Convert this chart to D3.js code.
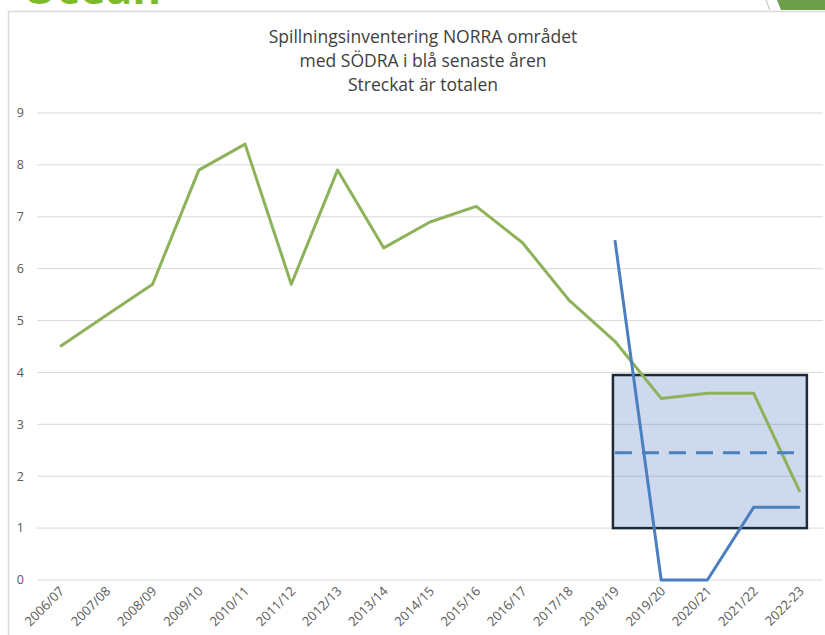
<!DOCTYPE html>
<html>
<head>
<meta charset="utf-8">
<script src="https://cdn.jsdelivr.net/npm/d3@7"></script>
<style>
  body { margin: 0; background: #fff; }
  text { font-family: "Open Sans", "Noto Sans", sans-serif; }
</style>
</head>
<body>
<div id="chart"></div>
<script>
// Kategorier (säsonger)
var seasons = ["2006/07", "2007/08", "2008/09", "2009/10", "2010/11", "2011/12",
  "2012/13", "2013/14", "2014/15", "2015/16", "2016/17", "2017/18",
  "2018/19", "2019/20", "2020/21", "2021/22", "2022-23"];

// NORRA området (grön)
var norra = [4.5, 5.1, 5.7, 7.9, 8.4, 5.7, 7.9, 6.4, 6.9, 7.2, 6.5, 5.4, 4.6, 3.5, 3.6, 3.6, 1.7];

// SÖDRA (blå), bara senaste åren
var sodraSeasons = ["2018/19", "2019/20", "2020/21", "2021/22", "2022-23"];
var sodra = [6.55, 0, 0, 1.4, 1.4];

// Streckat = totalen
var totalSeasons = ["2018/19", "2022-23"];
var total = [2.45, 2.45];

// Markerad ruta
var boxSeasons = ["2018/19", "2022-23"];
var boxValues = [1.0, 3.95];

var yTicks = [0, 1, 2, 3, 4, 5, 6, 7, 8, 9];

var titleLines = ["Spillningsinventering NORRA området", "med SÖDRA i blå senaste åren", "Streckat är totalen"];

var W = 825, H = 635;
var margin = {top: 113, right: 2, bottom: 55, left: 37},
    width = W - margin.left - margin.right,
    height = 580 - margin.top;

var svg = d3.select("#chart").append("svg")
    .attr("width", W)
    .attr("height", H);

// Ram runt diagrammet
svg.append("rect")
    .attr("x", 8.5).attr("y", 11.5)
    .attr("width", 900).attr("height", 700)
    .attr("fill", "#fff")
    .attr("stroke", "#d9d9d9")
    .attr("stroke-width", 1.5);

// Rester av bilden ovanför
svg.append("text")
    .attr("x", 22).attr("y", 4)
    .attr("fill", "#7dbb2a")
    .style("font-size", "44px")
    .style("font-weight", "bold")
    .text("Ocean");
svg.append("path")
    .attr("d", "M777,0 L825,0 L825,10 L781,10 Z")
    .attr("fill", "#6e9e4a");
svg.append("line")
    .attr("x1", 766).attr("y1", 0).attr("x2", 770).attr("y2", 10)
    .attr("stroke", "#bbb");

var g = svg.append("g")
    .attr("transform", "translate(" + margin.left + "," + margin.top + ")");

var x = d3.scaleBand()
    .domain(seasons)
    .range([0, 786]);

var y = d3.scaleLinear()
    .domain([0, 9])
    .range([height, 0]);

var cx = function(s) { return x(s) + x.bandwidth() / 2; };

// Rutnät
g.append("g")
    .selectAll("line")
    .data(yTicks)
  .enter().append("line")
    .attr("x1", 0).attr("x2", 786)
    .attr("y1", d => y(d)).attr("y2", d => y(d))
    .attr("stroke", "#d9d9d9")
    .attr("stroke-width", 1);

// Y-axel etiketter
g.append("g")
    .selectAll("text")
    .data(yTicks)
  .enter().append("text")
    .attr("x", -13)
    .attr("y", d => y(d))
    .attr("dy", "0.35em")
    .attr("text-anchor", "end")
    .attr("fill", "#595959")
    .style("font-size", "12.5px")
    .text(d => d);

// X-axel etiketter
g.append("g")
    .selectAll("text")
    .data(seasons)
  .enter().append("text")
    .attr("text-anchor", "end")
    .attr("transform", d => "translate(" + (cx(d) + 5) + "," + (height + 12) + ") rotate(-45)")
    .attr("fill", "#595959")
    .style("font-size", "13px")
    .text(d => d);

// Ruta
g.append("rect")
    .attr("x", cx(boxSeasons[0]) - 2)
    .attr("y", y(boxValues[1]))
    .attr("width", cx(boxSeasons[1]) - cx(boxSeasons[0]) + 9)
    .attr("height", y(boxValues[0]) - y(boxValues[1]))
    .attr("fill", "rgba(79,120,190,0.28)")
    .attr("stroke", "#1c2b3a")
    .attr("stroke-width", 2.5);

var line = d3.line()
    .x(d => cx(d[0]))
    .y(d => y(d[1]));

g.append("path")
    .datum(d3.zip(seasons, norra))
    .attr("fill", "none")
    .attr("stroke", "#8db25a")
    .attr("stroke-width", 3)
    .attr("stroke-linejoin", "round")
    .attr("d", line);

g.append("path")
    .datum(d3.zip(sodraSeasons, sodra))
    .attr("fill", "none")
    .attr("stroke", "#4a7fc0")
    .attr("stroke-width", 3)
    .attr("stroke-linejoin", "round")
    .attr("d", line);

g.append("path")
    .datum(d3.zip(totalSeasons, total))
    .attr("fill", "none")
    .attr("stroke", "#4a7fc0")
    .attr("stroke-width", 3)
    .attr("stroke-dasharray", "17,10")
    .attr("d", line);

// Titel
svg.append("g")
    .selectAll("text")
    .data(titleLines)
  .enter().append("text")
    .attr("x", 423)
    .attr("y", (d, i) => 43 + i * 24)
    .attr("text-anchor", "middle")
    .attr("fill", "#404040")
    .style("font-size", "17.5px")
    .text(d => d);
</script>
</body>
</html>
